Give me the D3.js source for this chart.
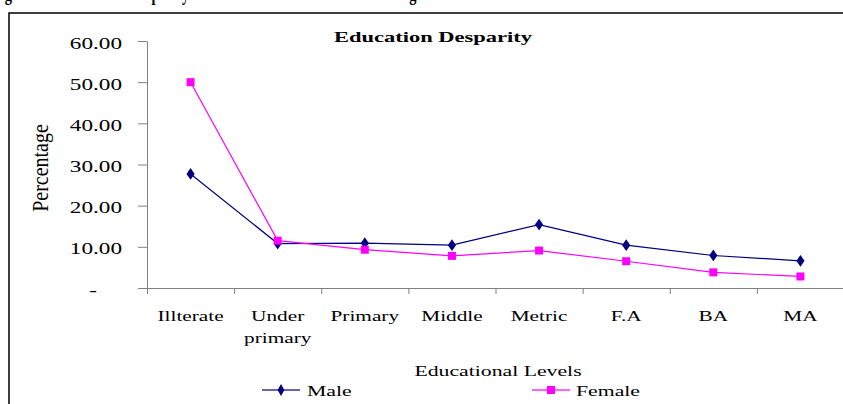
<!DOCTYPE html>
<html>
<head>
<meta charset="utf-8">
<script src="https://cdn.jsdelivr.net/npm/d3@7"></script>
<style>
  body { margin: 0; background: #fff; }
  svg { display: block; font-family: "Liberation Serif", "Times New Roman", serif; }
</style>
</head>
<body>
<div id="chart"></div>
<script>
var width = 843;
var height = 404;

var categories = ['Illterate', 'Under primary', 'Primary', 'Middle', 'Metric', 'F.A', 'BA', 'MA'];
var male = [27.7, 10.8, 10.9, 10.4, 15.4, 10.4, 7.9, 6.6];
var female = [50.0, 11.5, 9.3, 7.8, 9.1, 6.5, 3.8, 2.8];
var yTicks = [0, 10, 20, 30, 40, 50, 60];
var seriesNames = ['Male', 'Female'];
var seriesColors = ['#000080', '#FF00FF'];

// text in the original is stretched sideways
var sx = 1.45;

var plotLeft = 147, plotRight = 844, plotTop = 41, plotBottom = 288;

var svg = d3.select('#chart')
  .append('svg')
  .attr('width', width)
  .attr('height', height);

// caption above the chart box, mostly cut off by the page edge
svg.append('text')
  .attr('transform', 'translate(-8,-0.5) scale(0.72,1)')
  .style('font-size', '20px')
  .style('font-weight', 'bold')
  .text('Figure 4.2: Education Desparity between Male and Female Schooling');

// chart frame
svg.append('rect')
  .attr('x', 9)
  .attr('y', 13)
  .attr('width', 900)
  .attr('height', 500)
  .style('fill', 'none')
  .style('stroke', '#000')
  .style('stroke-width', 1.5);

var x = d3.scaleBand()
  .domain(categories)
  .range([plotLeft, plotRight]);

var xEdge = d3.scaleLinear()
  .domain([0, categories.length])
  .range([plotLeft, plotRight]);

var y = d3.scaleLinear()
  .domain([0, 60])
  .range([plotBottom, plotTop]);

function cx(d, i) {
  return x(categories[i]) + x.bandwidth() / 2;
}

// y axis
var yAxis = svg.append('g')
  .attr('transform', 'translate(' + plotLeft + ',0)')
  .call(d3.axisLeft(y).tickValues(yTicks).tickSize(9).tickSizeOuter(0)
    .tickFormat(function(d) { return d === 0 ? '-' : d3.format('.2f')(d); }));

yAxis.select('.domain').style('stroke', '#808080');
yAxis.selectAll('.tick line').style('stroke', '#808080');
yAxis.selectAll('.tick text')
  .attr('x', 0)
  .attr('dy', null)
  .attr('fill', '#000')
  .style('font-size', '16px')
  .style('font-family', '"Liberation Serif", serif')
  .attr('transform', function(d) {
    var off = d === 0 ? -50 : -25;
    return 'translate(' + off + ',7) scale(' + sx + ',1)';
  });

// x axis with ticks between categories
var xAxis = svg.append('g')
  .attr('transform', 'translate(0,' + plotBottom + ')')
  .call(d3.axisBottom(xEdge).tickValues(d3.range(categories.length + 1))
    .tickSize(6).tickSizeOuter(0).tickFormat(''));

xAxis.select('.domain').attr('d', 'M' + (plotLeft - 9) + ',0.5H' + plotRight).style('stroke', '#808080');
xAxis.selectAll('.tick line').style('stroke', '#808080');

// category labels
var catLabels = svg.append('g').selectAll('text')
  .data(categories)
  .enter()
  .append('text')
  .attr('transform', function(d) {
    return 'translate(' + (x(d) + x.bandwidth() / 2) + ',321) scale(1.42,1)';
  })
  .attr('text-anchor', 'middle')
  .style('font-size', '15px');

catLabels.each(function(d) {
  var words = d === 'Under primary' ? ['Under', 'primary'] : [d];
  var t = d3.select(this);
  words.forEach(function(w, i) {
    t.append('tspan').attr('x', 0).attr('dy', i === 0 ? 0 : 22).text(w);
  });
});

// axis titles
svg.append('text')
  .attr('transform', 'translate(48,168) scale(1.2,1) rotate(-90)')
  .attr('text-anchor', 'middle')
  .style('font-size', '20px')
  .text('Percentage');

svg.append('text')
  .attr('transform', 'translate(498,376) scale(' + sx + ',1)')
  .attr('text-anchor', 'middle')
  .style('font-size', '15px')
  .text('Educational Levels');

svg.append('text')
  .attr('transform', 'translate(433,42) scale(1.5,1)')
  .attr('text-anchor', 'middle')
  .style('font-size', '15px')
  .style('font-weight', 'bold')
  .text('Education Desparity');

// series
var line = d3.line()
  .x(cx)
  .y(function(d) { return y(d); });

var diamond = d3.symbol().type(d3.symbolDiamond).size(40);
var square = d3.symbol().type(d3.symbolSquare).size(64);

svg.append('path')
  .datum(male)
  .attr('d', line)
  .style('fill', 'none')
  .style('stroke', seriesColors[0])
  .style('stroke-width', 1.2);

svg.append('path')
  .datum(female)
  .attr('d', line)
  .style('fill', 'none')
  .style('stroke', seriesColors[1])
  .style('stroke-width', 1.2);

svg.append('g').selectAll('path')
  .data(male)
  .enter()
  .append('path')
  .attr('d', diamond)
  .attr('transform', function(d, i) { return 'translate(' + cx(d, i) + ',' + y(d) + ') scale(1.2,1)'; })
  .style('fill', seriesColors[0]);

svg.append('g').selectAll('path')
  .data(female)
  .enter()
  .append('path')
  .attr('d', square)
  .attr('transform', function(d, i) { return 'translate(' + cx(d, i) + ',' + y(d) + ')'; })
  .style('fill', seriesColors[1]);

// legend
var legendX = [262, 532];
var legend = svg.append('g').selectAll('g')
  .data(seriesNames)
  .enter()
  .append('g')
  .attr('transform', function(d, i) { return 'translate(' + legendX[i] + ',390)'; });

legend.append('line')
  .attr('x1', 0)
  .attr('x2', 38)
  .style('stroke', function(d, i) { return seriesColors[i]; })
  .style('stroke-opacity', 0.6)
  .style('stroke-width', 2);

legend.append('path')
  .attr('d', function(d, i) { return i === 0 ? diamond() : square(); })
  .attr('transform', 'translate(19,0)')
  .style('fill', function(d, i) { return seriesColors[i]; });

legend.append('text')
  .attr('transform', function(d, i) { return 'translate(' + (i === 0 ? 45 : 44) + ',6) scale(' + sx + ',1)'; })
  .style('font-size', '15px')
  .text(function(d) { return d; });
</script>
</body>
</html>
